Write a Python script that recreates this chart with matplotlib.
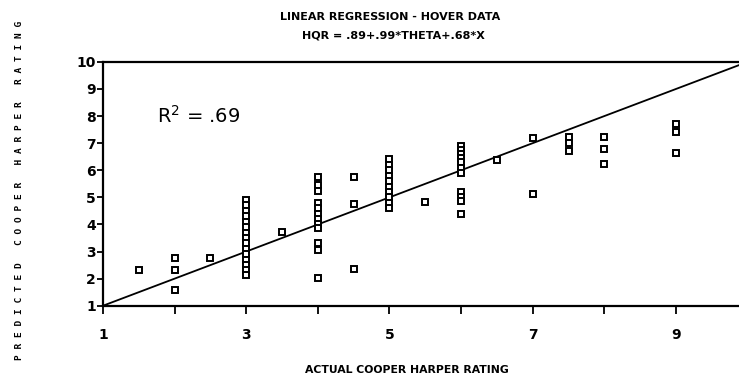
import matplotlib
matplotlib.use("Agg")
import matplotlib.pyplot as plt

# ---- data ----
x_15 = [1.5]
y_15 = [2.32]
x_2 = [2, 2, 2]
y_2 = [2.77, 2.32, 1.58]
x_25 = [2.5]
y_25 = [2.77]
x_3 = [3] * 15
y_3 = [4.9, 4.7, 4.5, 4.3, 4.1, 3.9, 3.7, 3.5, 3.3, 3.1, 2.9, 2.7, 2.5, 2.3, 2.15]
x_35 = [3.5]
y_35 = [3.72]
x_4 = [4] * 12
y_4 = [5.75, 5.45, 5.25, 4.8, 4.6, 4.4, 4.2, 4.0, 3.85, 3.3, 3.05, 2.03]
x_45 = [4.5, 4.5, 4.5]
y_45 = [5.76, 4.75, 2.35]
x_5 = [5] * 10
y_5 = [6.4, 6.2, 6.0, 5.8, 5.6, 5.4, 5.2, 5.0, 4.8, 4.6]
x_55 = [5.5]
y_55 = [4.82]
x_6 = [6] * 11
y_6 = [6.9, 6.75, 6.6, 6.45, 6.3, 6.1, 5.9, 5.2, 5.0, 4.85, 4.4]
x_65 = [6.5]
y_65 = [6.38]
x_7 = [7, 7]
y_7 = [7.2, 5.12]
x_75 = [7.5, 7.5, 7.5]
y_75 = [7.22, 6.99, 6.72]
x_8 = [8, 8, 8]
y_8 = [7.22, 6.77, 6.23]
x_9 = [9, 9, 9]
y_9 = [7.7, 7.4, 6.62]

xs = x_15 + x_2 + x_25 + x_3 + x_35 + x_4 + x_45 + x_5 + x_55 + x_6 + x_65 + x_7 + x_75 + x_8 + x_9
ys = y_15 + y_2 + y_25 + y_3 + y_35 + y_4 + y_45 + y_5 + y_55 + y_6 + y_65 + y_7 + y_75 + y_8 + y_9

line_x = [1, 10]
line_y = [1, 10]

x_ticks = [1, 2, 3, 4, 5, 6, 7, 8, 9]
x_tick_labels = ["1", "", "3", "", "5", "", "7", "", "9"]
y_ticks = [1, 2, 3, 4, 5, 6, 7, 8, 9, 10]
y_tick_labels = [str(v) for v in y_ticks]

title1 = "LINEAR REGRESSION - HOVER DATA"
title2 = "HQR = .89+.99*THETA+.68*X"
xlabel = "ACTUAL COOPER HARPER RATING"
ylabel = "PREDICTED COOPER HARPER RATING"
r2_text = "R$^2$ = .69"

fig = plt.figure(figsize=(7.39, 3.81), dpi=100)
ax = fig.add_axes([0.1394, 0.1976, 0.8606, 0.640])

ax.plot(line_x, line_y, color="black", lw=1.3, zorder=2)
ax.plot(xs, ys, linestyle="none", marker="s", markersize=5,
        markerfacecolor="white", markeredgecolor="black", markeredgewidth=1.4, zorder=3)

ax.set_xlim(1, 9.88)
ax.set_ylim(1, 10)
ax.set_xticks(x_ticks)
ax.set_xticklabels(x_tick_labels, fontfamily="DejaVu Sans", fontweight="bold", fontsize=10)
ax.set_yticks(y_ticks)
ax.set_yticklabels(y_tick_labels, fontfamily="DejaVu Sans", fontweight="bold", fontsize=10)
ax.tick_params(axis="x", direction="out", length=6, width=1.3, pad=10)
ax.tick_params(axis="y", direction="out", length=4, width=1.3, pad=1)

for s in ["left", "bottom", "top"]:
    ax.spines[s].set_linewidth(1.6)
ax.spines["right"].set_visible(False)

ax.text(1.75, 8.0, r2_text, fontsize=14, fontfamily="DejaVu Sans", va="center", ha="left")

fig.text(0.528, 0.955, title1, ha="center", va="center", fontfamily="DejaVu Sans",
         fontweight="bold", fontsize=8)
fig.text(0.533, 0.908, title2, ha="center", va="center", fontfamily="DejaVu Sans",
         fontweight="bold", fontsize=8)
fig.text(0.551, 0.03, xlabel, ha="center", va="center", fontfamily="DejaVu Sans",
         fontweight="bold", fontsize=7.8)

spaced = "   ".join(" ".join(w) for w in ylabel.split(" "))
fig.text(0.027, 0.50, spaced, rotation=90, ha="center", va="center",
         fontfamily="DejaVu Sans Mono", fontweight="bold", fontsize=6.8)

fig.savefig("out.png", dpi=100)
